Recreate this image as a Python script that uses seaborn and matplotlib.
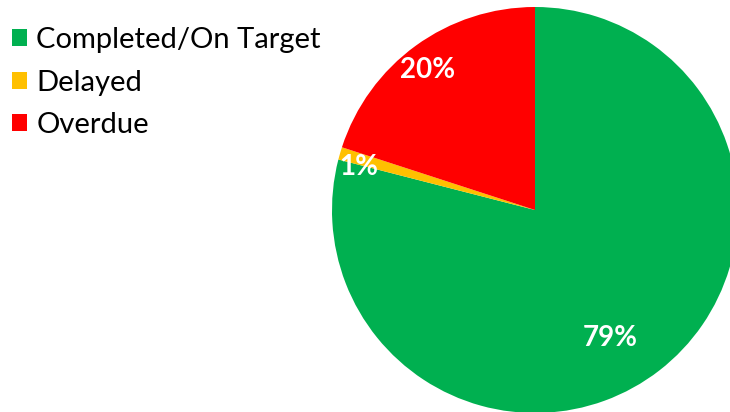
import matplotlib
matplotlib.use('Agg')
import matplotlib.pyplot as plt
import seaborn as sns

# status share of tasks
labels = ['Completed/On Target', 'Delayed', 'Overdue']
values = [79, 1, 20]
colors = ['#00B050', '#FFC000', '#FF0000']

# label placement in pie units (Excel "best fit" look)
label_pos = [(0.37, -0.63), (-0.87, 0.21), (-0.53, 0.69)]

sns.set_style('white')
plt.rcParams['font.family'] = ['Lato', 'DejaVu Sans']

fig = plt.figure(figsize=(7.3, 4.12), dpi=100)
ax = fig.add_axes([332 / 730, -1 / 412, 406 / 730, 406 / 412])

wedges, texts, autotexts = ax.pie(
    values, colors=colors, startangle=90, counterclock=False,
    autopct='%1.0f%%', radius=1,
    wedgeprops=dict(linewidth=0),
    textprops=dict(color='white', fontsize=20, fontweight='bold'),
)
for t, pos in zip(autotexts, label_pos):
    t.set_position(pos)
for w in wedges:
    w.set_clip_on(False)
ax.set_xlim(-1, 1)
ax.set_ylim(-1, 1)
ax.set_aspect('equal')
ax.axis('off')

fig.legend(wedges, labels, loc='upper left', bbox_to_anchor=(0.0, 0.963),
           frameon=False, fontsize=21, handlelength=0.52, handleheight=0.52,
           handletextpad=0.32, labelspacing=0.57, borderaxespad=0.0,
           labelcolor='black')

fig.savefig('out.png', dpi=100)
